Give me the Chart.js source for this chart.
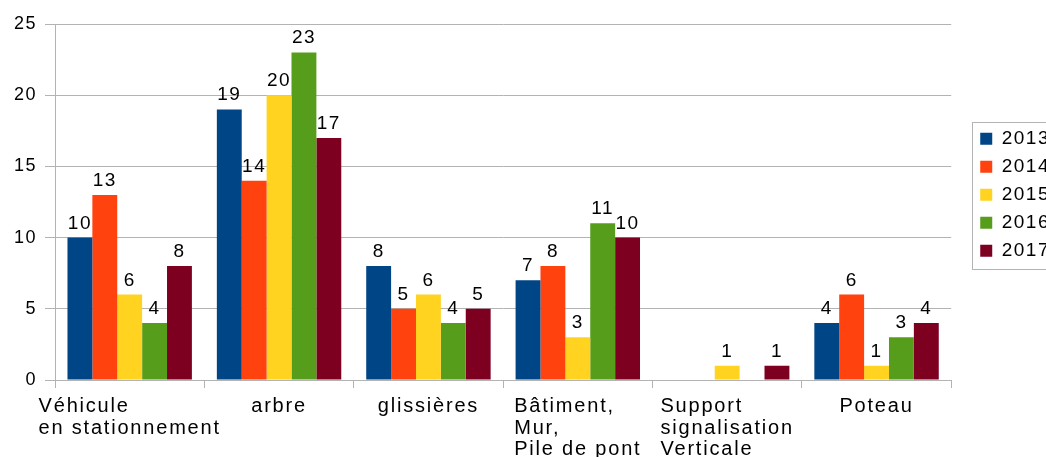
<!DOCTYPE html>
<html>
<head>
<meta charset="utf-8">
<script src="https://cdn.jsdelivr.net/npm/chart.js@4/dist/chart.umd.min.js"></script>
<style>
  html, body { margin: 0; padding: 0; background: #fff; overflow: hidden; }
  #wrap { position: relative; width: 1060px; height: 457px; }
</style>
</head>
<body>
<div id="wrap"><canvas id="c"></canvas></div>
<script>
const categories = [
  ["Véhicule", "en stationnement"],
  ["arbre"],
  ["glissières"],
  ["Bâtiment,", "Mur,", "Pile de pont"],
  ["Support", "signalisation", "Verticale"],
  ["Poteau"]
];
const seriesNames = ["2013", "2014", "2015", "2016", "2017"];
const values2013 = [10, 19, 8, 7, null, 4];
const values2014 = [13, 14, 5, 8, null, 6];
const values2015 = [6, 20, 6, 3, 1, 1];
const values2016 = [4, 23, 4, 11, null, 3];
const values2017 = [8, 17, 5, 10, 1, 4];
const yTicks = [0, 5, 10, 15, 20, 25];

const colors = ["#004586", "#ff420e", "#ffd320", "#579d1c", "#7e0021"];
const allValues = [values2013, values2014, values2015, values2016, values2017];
const FONT = "'Liberation Sans', Arial, sans-serif";
const GRID = "#b3b3b3";
const LS = "1.5px";

const spacingPlugin = {
  id: 'spacing',
  beforeUpdate(c) { c.ctx.letterSpacing = LS; },
  beforeLayout(c) { c.ctx.letterSpacing = LS; },
  beforeDraw(c) { c.ctx.letterSpacing = LS; }
};

const valueLabels = {
  id: 'valueLabels',
  afterDatasetsDraw(c) {
    const ctx = c.ctx;
    ctx.save();
    ctx.letterSpacing = LS;
    ctx.font = "19px " + FONT;
    ctx.fillStyle = "#000";
    ctx.textAlign = "center";
    ctx.textBaseline = "alphabetic";
    c.data.datasets.forEach((ds, di) => {
      const meta = c.getDatasetMeta(di);
      meta.data.forEach((el, i) => {
        const v = ds.data[i];
        if (v === null || v === undefined) return;
        ctx.fillText(String(v), el.x, el.y - 9);
      });
    });
    ctx.restore();
  }
};

const catLabels = {
  id: 'catLabels',
  afterDraw(c) {
    const ctx = c.ctx;
    const xs = c.scales.x;
    ctx.save();
    ctx.letterSpacing = "1.8px";
    ctx.font = "20px " + FONT;
    ctx.fillStyle = "#000";
    ctx.textAlign = "left";
    ctx.textBaseline = "alphabetic";
    const base = c.chartArea.bottom + 32;
    categories.forEach((lines, i) => {
      const cx = xs.getPixelForTick(i);
      let w = 0;
      lines.forEach(l => { w = Math.max(w, ctx.measureText(l).width); });
      const left = cx - w / 2;
      lines.forEach((l, j) => ctx.fillText(l, left, base + j * 21.5));
    });
    ctx.restore();
  }
};

const legendBorder = {
  id: 'legendBorder',
  afterDraw(c) {
    const lg = c.legend;
    if (!lg || !lg.legendHitBoxes || !lg.legendHitBoxes.length) return;
    const hb = lg.legendHitBoxes;
    const first = hb[0], last = hb[hb.length - 1];
    const ctx = c.ctx;
    ctx.save();
    ctx.strokeStyle = GRID;
    ctx.lineWidth = 1;
    const x = Math.round(first.left - 8) + 0.5;
    const y = Math.round(first.top - 7) + 0.5;
    const b = Math.round(last.top + last.height + 9) + 0.5;
    ctx.strokeRect(x, y, 200, b - y);
    ctx.restore();
  }
};

new Chart(document.getElementById('c'), {
  type: 'bar',
  data: {
    labels: categories,
    datasets: seriesNames.map((n, i) => ({
      label: n,
      data: allValues[i],
      backgroundColor: colors[i],
      borderWidth: 0,
      categoryPercentage: 0.833,
      barPercentage: 1.0
    }))
  },
  options: {
    responsive: true,
    maintainAspectRatio: false,
    animation: false,
    events: [],
    layout: { padding: { left: 12, top: 24, right: 0, bottom: 0 } },
    plugins: {
      tooltip: { enabled: false },
      legend: {
        display: true,
        position: 'right',
        align: 'start',
        title: { display: true, text: ' ', font: { size: 1 }, padding: { top: 95, bottom: 0 } },
        labels: {
          boxWidth: 12,
          boxHeight: 12,
          padding: 9,
          color: '#000',
          font: { family: FONT, size: 19 }
        }
      }
    },
    scales: {
      x: {
        offset: true,
        grid: {
          offset: true,
          drawOnChartArea: true,
          color: (ctx) => (ctx.index === 0 || ctx.index === categories.length) ? GRID : 'rgba(0,0,0,0)',
          tickColor: GRID,
          tickLength: 8,
          lineWidth: 1
        },
        border: { display: false },
        ticks: {
          color: 'rgba(0,0,0,0)',
          font: { family: FONT, size: 18 },
          autoSkip: false,
          maxRotation: 0,
          padding: 6
        },
        afterFit: (s) => { s.height = 77; }
      },
      y: {
        min: 0,
        max: 25,
        afterBuildTicks: (s) => { s.ticks = yTicks.map(v => ({ value: v })); },
        ticks: {
          color: '#000',
          font: { family: FONT, size: 18 },
          padding: 8
        },
        grid: { color: GRID, tickColor: GRID, tickLength: 10, lineWidth: 1 },
        border: { color: GRID },
        afterFit: (s) => { s.width = 43; }
      },
      y2: {
        position: 'right',
        display: true,
        min: 0,
        max: 25,
        ticks: { display: false },
        grid: { display: false, drawOnChartArea: false },
        border: { display: false },
        afterFit: (s) => { s.width = 20; }
      }
    }
  },
  plugins: [spacingPlugin, valueLabels, catLabels, legendBorder]
});
</script>
</body>
</html>
